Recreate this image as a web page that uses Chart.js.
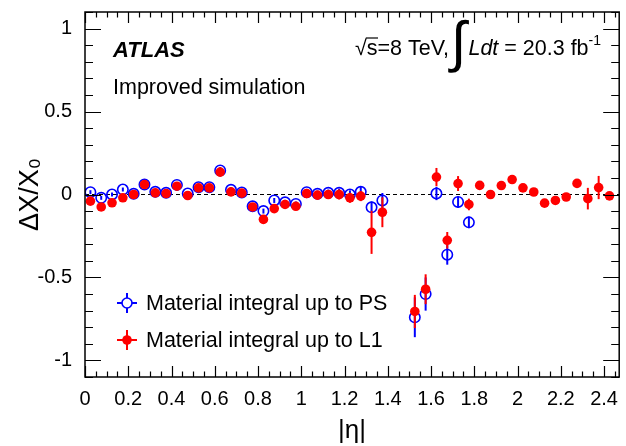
<!DOCTYPE html>
<html>
<head>
<meta charset="utf-8">
<script src="https://cdn.jsdelivr.net/npm/chart.js@4/dist/chart.umd.min.js"></script>
<style>
  html, body { margin: 0; padding: 0; background: #fff; }
</style>
</head>
<body>
<canvas id="chart" width="626" height="446"></canvas>
<script>
// |eta| bin centres and values
const etaPS = [0.025, 0.075, 0.125, 0.175, 0.225, 0.275, 0.325, 0.375, 0.425, 0.475,
  0.525, 0.575, 0.625, 0.675, 0.725, 0.775, 0.825, 0.875, 0.925, 0.975,
  1.025, 1.075, 1.125, 1.175, 1.225, 1.275, 1.325, 1.375,
  1.525, 1.575, 1.625, 1.675, 1.725, 1.775];
const valPS = [0.014, -0.02, 0.0, 0.03, 0.004, 0.06, 0.016, 0.01, 0.058, 0.006,
  0.044, 0.044, 0.145, 0.028, 0.012, -0.071, -0.10, -0.036, -0.047, -0.057,
  0.014, 0.004, 0.01, 0.01, 0.0, 0.016, -0.077, -0.036,
  -0.74, -0.60, 0.006, -0.363, -0.045, -0.168];
const errPS = [0.012, 0.012, 0.012, 0.012, 0.012, 0.015, 0.012, 0.012, 0.015, 0.012,
  0.012, 0.012, 0.02, 0.015, 0.012, 0.015, 0.015, 0.015, 0.015, 0.015,
  0.02, 0.02, 0.02, 0.025, 0.025, 0.03, 0.035, 0.045,
  0.12, 0.10, 0.04, 0.06, 0.035, 0.035];

const etaL1 = [0.025, 0.075, 0.125, 0.175, 0.225, 0.275, 0.325, 0.375, 0.425, 0.475,
  0.525, 0.575, 0.625, 0.675, 0.725, 0.775, 0.825, 0.875, 0.925, 0.975,
  1.025, 1.075, 1.125, 1.175, 1.225, 1.275, 1.325, 1.375,
  1.525, 1.575, 1.625, 1.675, 1.725, 1.775, 1.825, 1.875, 1.925, 1.975,
  2.025, 2.075, 2.125, 2.175, 2.225, 2.275, 2.325, 2.375, 2.425];
const valL1 = [-0.04, -0.075, -0.05, -0.02, 0.0, 0.06, 0.01, 0.006, 0.05, -0.006,
  0.04, 0.04, 0.135, 0.016, 0.008, -0.075, -0.15, -0.085, -0.06, -0.071,
  0.006, -0.004, 0.0, 0.0, -0.02, -0.01, -0.228, -0.107,
  -0.705, -0.571, 0.105, -0.276, 0.066, -0.06, 0.055, 0.0, 0.054, 0.09,
  0.04, 0.015, -0.052, -0.036, -0.015, 0.067, -0.025, 0.042, -0.008];
const errL1 = [0.012, 0.012, 0.012, 0.012, 0.012, 0.015, 0.012, 0.012, 0.015, 0.012,
  0.012, 0.012, 0.02, 0.015, 0.012, 0.015, 0.025, 0.02, 0.02, 0.02,
  0.025, 0.025, 0.025, 0.03, 0.03, 0.03, 0.13, 0.09,
  0.10, 0.09, 0.055, 0.05, 0.045, 0.035, 0.015, 0.015, 0.015, 0.015,
  0.015, 0.015, 0.015, 0.015, 0.015, 0.015, 0.065, 0.07, 0.015];

const labelPS = "Material integral up to PS";
const labelL1 = "Material integral up to L1";
const BLUE = "#0000ff";
const RED = "#ff0000";
const FONT = "'Liberation Sans', Arial, Helvetica, sans-serif";

const toPoints = (xs, ys, es) => xs.map((x, i) => ({ x: x, y: ys[i], e: es[i] }));

// vertical error bars, drawn just under each dataset's markers
const errorBars = {
  id: "errorBars",
  beforeDatasetDraw(chart, args) {
    const ds = chart.data.datasets[args.index];
    const { ctx, scales: { x, y } } = chart;
    ctx.save();
    ctx.strokeStyle = ds.borderColor;
    ctx.lineWidth = 2;
    ds.data.forEach(p => {
      const px = x.getPixelForValue(p.x);
      ctx.beginPath();
      ctx.moveTo(px, y.getPixelForValue(p.y - p.e));
      ctx.lineTo(px, y.getPixelForValue(p.y + p.e));
      ctx.stroke();
    });
    ctx.restore();
  }
};

// ROOT style frame: box, inward ticks on all four sides, dashed zero line
const frame = {
  id: "frame",
  beforeDatasetsDraw(chart) {
    const { ctx, chartArea: a, scales: { y } } = chart;
    const y0 = y.getPixelForValue(0);
    ctx.save();
    ctx.strokeStyle = "#000";
    ctx.lineWidth = 1;
    ctx.setLineDash([4, 3]);
    ctx.beginPath();
    ctx.moveTo(a.left, y0);
    ctx.lineTo(a.right, y0);
    ctx.stroke();
    ctx.restore();
  },
  afterDraw(chart) {
    const { ctx, chartArea: a, scales: { x, y } } = chart;
    ctx.save();
    ctx.strokeStyle = "#000";
    ctx.lineWidth = 1.5;
    ctx.strokeRect(a.left, a.top, a.right - a.left, a.bottom - a.top);
    ctx.lineWidth = 1.2;
    ctx.beginPath();
    for (let i = 0; i <= 49; i++) {
      const px = Math.round(x.getPixelForValue(i * 0.05)) + 0.5;
      const len = i % 4 === 0 ? 11 : 5.5;
      ctx.moveTo(px, a.bottom); ctx.lineTo(px, a.bottom - len);
      ctx.moveTo(px, a.top); ctx.lineTo(px, a.top + len);
    }
    for (let i = -11; i <= 11; i++) {
      const py = Math.round(y.getPixelForValue(i * 0.1)) + 0.5;
      const len = i % 5 === 0 ? 16 : 8;
      ctx.moveTo(a.left, py); ctx.lineTo(a.left + len, py);
      ctx.moveTo(a.right, py); ctx.lineTo(a.right - len, py);
    }
    ctx.stroke();
    ctx.restore();
  }
};

// ATLAS label, energy / luminosity and the legend
const annotations = {
  id: "annotations",
  afterDraw(chart) {
    const ctx = chart.ctx;
    ctx.save();
    ctx.fillStyle = "#000";
    ctx.textBaseline = "alphabetic";
    ctx.textAlign = "left";

    ctx.font = "italic bold 22px " + FONT;
    ctx.fillText("ATLAS", 113, 57);
    ctx.font = "21.5px " + FONT;
    ctx.fillText("Improved simulation", 113, 94);

    // sqrt(s)=8 TeV, \int L dt = 20.3 fb^-1
    let cx = 355;
    const base = 55;
    ctx.font = "21.5px " + FONT;
    ctx.fillText("\u221A", cx, base);
    cx += ctx.measureText("\u221A").width;
    const sW = ctx.measureText("s").width;
    ctx.fillText("s", cx, base);
    ctx.lineWidth = 1.2;
    ctx.beginPath();
    ctx.moveTo(cx - 1, base - 17);
    ctx.lineTo(cx + sW + 0.5, base - 17);
    ctx.stroke();
    cx += sW;
    const t1 = "=8 TeV,";
    ctx.fillText(t1, cx, base);
    cx += ctx.measureText(t1).width + 2;
    ctx.font = "56px " + FONT;
    ctx.fillText("\u222B", cx, base + 6);
    cx += ctx.measureText("\u222B").width + 2;
    ctx.font = "italic 21.5px " + FONT;
    ctx.fillText("Ldt", cx, base);
    cx += ctx.measureText("Ldt").width;
    ctx.font = "21.5px " + FONT;
    const t2 = " = 20.3 fb";
    ctx.fillText(t2, cx, base);
    cx += ctx.measureText(t2).width;
    ctx.font = "14px " + FONT;
    ctx.fillText("-1", cx, base - 10);

    // legend
    const rows = [
      { label: labelPS, color: BLUE, y: 303, open: true },
      { label: labelL1, color: RED, y: 340, open: false }
    ];
    rows.forEach(r => {
      const mx = 127;
      ctx.strokeStyle = r.color;
      ctx.lineWidth = 2;
      ctx.beginPath();
      ctx.moveTo(mx - 10, r.y); ctx.lineTo(mx + 10, r.y);
      ctx.moveTo(mx, r.y - 10); ctx.lineTo(mx, r.y + 10);
      ctx.stroke();
      ctx.beginPath();
      ctx.arc(mx, r.y, r.open ? 5 : 4.8, 0, Math.PI * 2);
      if (r.open) {
        ctx.fillStyle = "#fff";
        ctx.fill();
        ctx.lineWidth = 1.6;
        ctx.stroke();
      } else {
        ctx.fillStyle = r.color;
        ctx.fill();
      }
      ctx.fillStyle = "#000";
      ctx.font = "21.5px " + FONT;
      ctx.textBaseline = "middle";
      ctx.fillText(r.label, 146, r.y + 1);
    });
    ctx.restore();
  }
};

new Chart(document.getElementById("chart"), {
  type: "scatter",
  data: {
    datasets: [
      {
        label: labelL1,
        data: toPoints(etaL1, valL1, errL1),
        borderColor: RED,
        backgroundColor: RED,
        pointRadius: 4.8,
        pointBorderWidth: 0,
        pointHoverRadius: 4.8
      },
      {
        label: labelPS,
        data: toPoints(etaPS, valPS, errPS),
        borderColor: BLUE,
        backgroundColor: "rgba(0,0,0,0)",
        pointRadius: 5.2,
        pointBorderWidth: 1.6,
        pointHoverRadius: 5.2
      }
    ]
  },
  options: {
    responsive: false,
    animation: false,
    devicePixelRatio: 1,
    layout: { padding: { left: 0, top: 12, right: 4, bottom: 0 } },
    plugins: {
      legend: { display: false },
      tooltip: { enabled: false }
    },
    scales: {
      x: {
        type: "linear",
        min: 0,
        max: 2.47,
        grid: { display: false, drawTicks: false },
        border: { display: false },
        ticks: {
          stepSize: 0.2,
          includeBounds: false,
          padding: 10,
          color: "#000",
          font: { family: FONT, size: 20 },
          maxRotation: 0,
          autoSkip: false,
          callback: v => String(Math.round(v * 10) / 10)
        },
        title: {
          display: true,
          text: "|\u03B7|",
          color: "#000",
          font: { family: FONT, size: 26 },
          padding: { top: 0, bottom: 0 }
        },
        afterFit: s => { s.height = 69; s.paddingLeft = 0; s.paddingRight = 0; }
      },
      y: {
        min: -1.1,
        max: 1.1,
        grid: { display: false, drawTicks: false },
        border: { display: false },
        ticks: {
          stepSize: 0.5,
          includeBounds: false,
          padding: 13,
          color: "#000",
          font: { family: FONT, size: 20 },
          callback: v => String(Math.round(v * 10) / 10)
        },
        title: {
          display: true,
          text: "\u0394X/X\u2080",
          color: "#000",
          font: { family: FONT, size: 27 },
          padding: { top: 14, bottom: 0 }
        },
        afterFit: s => { s.width = 85; s.paddingTop = 0; s.paddingBottom = 0; }
      }
    }
  },
  plugins: [errorBars, frame, annotations]
});
</script>
</body>
</html>
